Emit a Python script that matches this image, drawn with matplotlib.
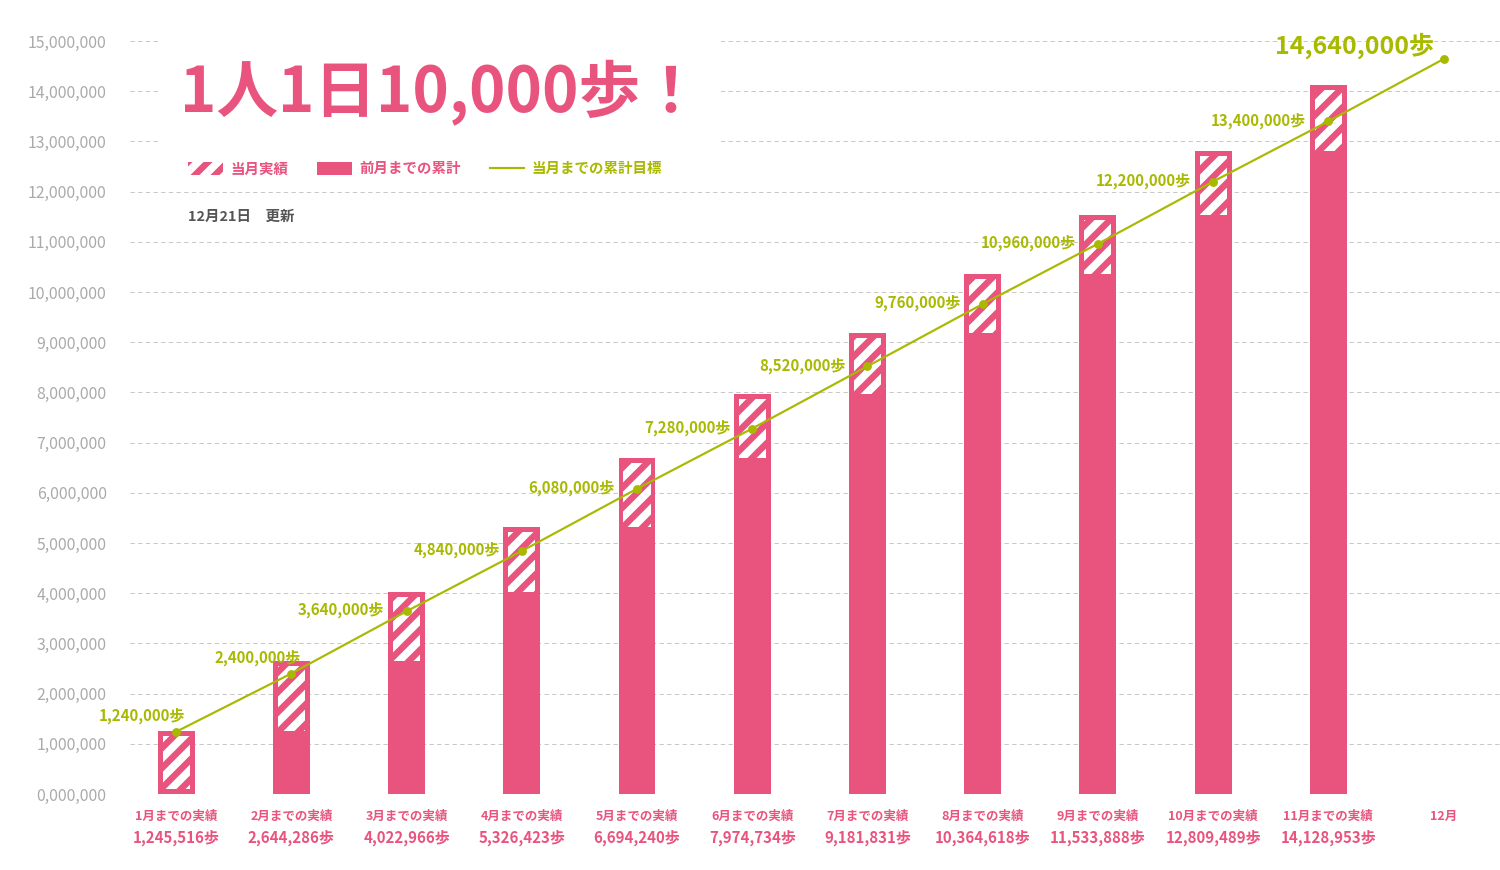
import matplotlib
matplotlib.use('Agg')
import matplotlib.pyplot as plt
from matplotlib.patches import Patch
from matplotlib.lines import Line2D

plt.rcParams['font.family'] = ['Noto Sans CJK JP', 'DejaVu Sans']
plt.rcParams['hatch.linewidth'] = 4.6
plt.rcParams['lines.scale_dashes'] = False

# data
months = ['1月', '2月', '3月', '4月', '5月', '6月', '7月', '8月', '9月', '10月', '11月', '12月']
actual_cum = [1245516, 2644286, 4022966, 5326423, 6694240, 7974734,
              9181831, 10364618, 11533888, 12809489, 14128953]
target_cum = [1240000, 2400000, 3640000, 4840000, 6080000, 7280000,
              8520000, 9760000, 10960000, 12200000, 13400000, 14640000]
prev_cum = [0] + actual_cum[:-1]
yticks = list(range(0, 15000001, 1000000))

PINK = '#e9547f'
GREEN = '#a8b900'
PX = 72 / 120  # points per pixel

fig = plt.figure(figsize=(12.5, 7.25), dpi=120)
ax = fig.add_axes([130 / 1500, 1 - 794 / 870, 1370 / 1500, (794 - 41) / 870])
ax.set_xlim(-0.40, 11.49)
ax.set_ylim(0, 15000000)

# y per pixel, used for the small pink inset around the stripes
ypx = 15000000 / (794 - 41)
bar_w = 0.32
inner_w = 0.235

xs = list(range(len(actual_cum)))
ax.bar(xs, actual_cum, width=bar_w, color=PINK, zorder=2)
hatch_bottom = [max(p, 5 * ypx) for p in prev_cum]
hatch_h = [a - 5 * ypx - b for a, b in zip(actual_cum, hatch_bottom)]
ax.bar(xs, hatch_h, bottom=hatch_bottom, width=inner_w, facecolor=PINK,
       edgecolor='white', hatch='//', linewidth=0, zorder=3)

# target line
ax.plot(range(len(target_cum)), target_cum, color=GREEN, lw=1.3,
        marker='o', ms=4.3, zorder=4, clip_on=False)

for i, t in enumerate(target_cum):
    lab = f'{t:,}歩'
    if i == len(target_cum) - 1:
        ax.annotate(lab, (i, t), xytext=(-10 * PX, 13 * PX), textcoords='offset points',
                    ha='right', va='center', fontsize=15, fontweight='bold', color=GREEN)
    elif i < 2:
        ax.annotate(lab, (i, t), xytext=(9 * PX, 16 * PX), textcoords='offset points',
                    ha='right', va='center', fontsize=9, fontweight='bold', color=GREEN)
    else:
        ax.annotate(lab, (i, t), xytext=(-22 * PX, 1 * PX), textcoords='offset points',
                    ha='right', va='center', fontsize=9, fontweight='bold', color=GREEN)

# x labels
for i, m in enumerate(months):
    if i < len(actual_cum):
        ax.annotate(m + 'までの実績', (i, 0), xycoords=('data', 'axes fraction'),
                    xytext=(0, -22 * PX), textcoords='offset points',
                    ha='center', va='center', fontsize=7.5, fontweight='bold', color=PINK)
        ax.annotate(f'{actual_cum[i]:,}歩', (i, 0), xycoords=('data', 'axes fraction'),
                    xytext=(0, -44 * PX), textcoords='offset points',
                    ha='center', va='center', fontsize=9, fontweight='bold', color=PINK)
    else:
        ax.annotate(m, (i, 0), xycoords=('data', 'axes fraction'),
                    xytext=(0, -22 * PX), textcoords='offset points',
                    ha='center', va='center', fontsize=7.5, fontweight='bold', color=PINK)

ax.set_xticks([])
ax.set_yticks(yticks)
ax.set_yticklabels([f'{v:,}' if v else '0,000,000' for v in yticks])
ax.tick_params(axis='y', length=0, pad=14, labelsize=9.5, labelcolor='#aaaaaa')
for s in ax.spines.values():
    s.set_visible(False)
ax.set_axisbelow(True)
ax.grid(axis='y', color='#c8c8c8', lw=0.6, linestyle=(0, (2.6, 2.0)))

# title
fig.text(180 / 1500, 1 - 92 / 870, '1人1日10,000歩！', fontsize=37, fontweight='bold',
         color=PINK, ha='left', va='center',
         bbox=dict(facecolor='white', edgecolor='none', pad=12))

# legend
handles = [Patch(facecolor=PINK, edgecolor='white', hatch='//', linewidth=0),
           Patch(facecolor=PINK, edgecolor='none'),
           Line2D([], [], color=GREEN, lw=1.3)]
leg = ax.legend(handles, ['当月実績', '前月までの累計', '当月までの累計目標'],
                loc='center left', bbox_to_anchor=(188 / 1500, 1 - 169 / 870),
                bbox_transform=fig.transFigure, ncol=3, frameon=False,
                borderpad=0, borderaxespad=0, handlelength=2.4, handleheight=1.1,
                handletextpad=0.5, columnspacing=2.0,
                prop={'size': 8.7, 'weight': 'bold'})
for txt, c in zip(leg.get_texts(), [PINK, PINK, GREEN]):
    txt.set_color(c)

fig.text(188 / 1500, 1 - 217 / 870, '12月21日　更新', fontsize=8.7, fontweight='bold',
         color='#555555', ha='left', va='center')

fig.savefig('out.png', dpi=120)
